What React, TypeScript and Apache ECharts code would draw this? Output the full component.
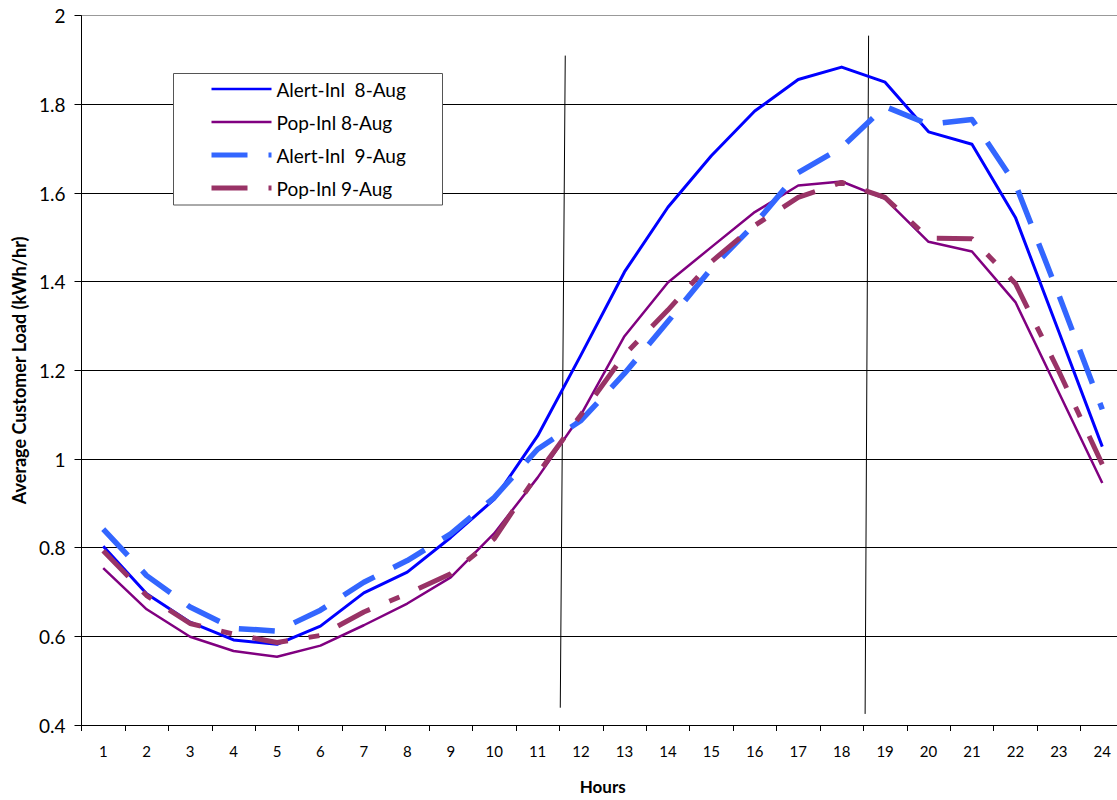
import React, { useEffect, useRef } from 'react';
import * as echarts from 'echarts';

const hours = ['1', '2', '3', '4', '5', '6', '7', '8', '9', '10', '11', '12', '13', '14', '15', '16', '17', '18', '19', '20', '21', '22', '23', '24'];

const alertAug8 = [0.803, 0.696, 0.632, 0.592, 0.582, 0.623, 0.698, 0.745, 0.823, 0.909, 1.052, 1.235, 1.422, 1.568, 1.684, 1.785, 1.856, 1.884, 1.850, 1.738, 1.710, 1.545, 1.287, 1.028];
const popAug8 = [0.754, 0.661, 0.599, 0.567, 0.554, 0.579, 0.625, 0.674, 0.733, 0.832, 0.958, 1.100, 1.277, 1.398, 1.478, 1.557, 1.617, 1.626, 1.587, 1.490, 1.468, 1.354, 1.150, 0.946];
const alertAug9 = [0.842, 0.737, 0.666, 0.618, 0.612, 0.659, 0.722, 0.771, 0.831, 0.913, 1.022, 1.087, 1.193, 1.310, 1.430, 1.530, 1.646, 1.703, 1.795, 1.755, 1.766, 1.620, 1.370, 1.112];
const popAug9 = [0.793, 0.692, 0.629, 0.605, 0.586, 0.602, 0.655, 0.696, 0.741, 0.820, 0.966, 1.100, 1.235, 1.336, 1.445, 1.527, 1.590, 1.624, 1.590, 1.498, 1.497, 1.396, 1.198, 0.988];

// hand-drawn vertical markers, in (hour, load) units
const markerA = [[11.637, 1.910], [11.522, 0.439]];
const markerB = [[18.62, 1.955], [18.54, 0.425]];

const seriesNames = ['Alert-Inl  8-Aug', 'Pop-Inl 8-Aug', 'Alert-Inl  9-Aug', 'Pop-Inl 9-Aug'];

const FONT = 'Lato, "Open Sans", sans-serif';

const App: React.FC = () => {
  const chartRef = useRef<HTMLDivElement>(null);

  useEffect(() => {
    if (!chartRef.current) return;
    const chart = echarts.init(chartRef.current, undefined, { renderer: 'svg' });

    const lineSeries = (name: string, data: number[], color: string, width: number, dash?: number[]) => ({
      name,
      type: 'line',
      data,
      symbol: 'none',
      xAxisIndex: 0,
      yAxisIndex: 0,
      lineStyle: {
        color,
        width,
        type: dash ? dash : 'solid',
        cap: 'butt',
        join: 'round'
      },
      itemStyle: { color }
    });

    const markerSeries = (data: number[][]) => ({
      type: 'line',
      data,
      symbol: 'none',
      silent: true,
      xAxisIndex: 1,
      yAxisIndex: 0,
      lineStyle: { color: '#000', width: 1 },
      z: 1
    });

    const legendWidths = [2.7, 2.7, 5, 5];

    const option: any = {
      animation: false,
      textStyle: { fontFamily: FONT },
      grid: {
        left: 81.5,
        top: 15.7,
        width: 1042.5,
        height: 713.6
      },
      legend: {
        orient: 'vertical',
        left: 209,
        top: 79,
        padding: 0,
        itemGap: 13,
        itemWidth: 60,
        itemHeight: 14,
        data: seriesNames.map((name, i) => ({ name, lineStyle: { width: legendWidths[i] } })),
        itemStyle: { color: 'rgba(0,0,0,0)', borderColor: 'rgba(0,0,0,0)', borderWidth: 0 },
        textStyle: { fontSize: 19, lineHeight: 20, color: '#000', fontFamily: FONT },
        z: 5
      },
      graphic: [
        {
          type: 'rect',
          z: 4,
          shape: { x: 173.5, y: 73.5, width: 269, height: 131.5 },
          style: { fill: '#fff', stroke: '#555', lineWidth: 1 }
        }
      ],
      xAxis: [
        {
          type: 'category',
          data: hours,
          boundaryGap: true,
          name: 'Hours',
          nameLocation: 'middle',
          nameGap: 53,
          nameTextStyle: { fontSize: 17, fontWeight: 'bold', color: '#000', fontFamily: FONT },
          axisLine: { lineStyle: { color: '#000', width: 1 } },
          axisTick: { show: true, length: 6, lineStyle: { color: '#000' } },
          axisLabel: { fontSize: 15, color: '#000', margin: 18, interval: 0, fontFamily: FONT },
          splitLine: { show: false }
        },
        {
          type: 'value',
          min: 0.5,
          max: 24.5,
          show: false
        }
      ],
      yAxis: {
        type: 'value',
        min: 0.4,
        max: 2,
        interval: 0.2,
        name: 'Average Customer Load (kWh/hr)',
        nameLocation: 'middle',
        nameGap: 54,
        nameTextStyle: { fontSize: 18, fontWeight: 'bold', color: '#000', fontFamily: FONT },
        axisLine: { show: true, lineStyle: { color: '#000', width: 1 } },
        axisTick: { show: true, length: 7, lineStyle: { color: '#000' } },
        axisLabel: { fontSize: 19, color: '#000', margin: 16, fontFamily: FONT },
        splitLine: {
          show: true,
          lineStyle: {
            color: ['#000', '#000', '#000', '#000', '#000', '#000', '#000', '#000', '#999'],
            width: 1
          }
        }
      },
      series: [
        lineSeries(seriesNames[0], alertAug8, '#0000FF', 3),
        lineSeries(seriesNames[1], popAug8, '#800080', 2.5),
        lineSeries(seriesNames[2], alertAug9, '#3366FF', 5.5, [36, 21]),
        lineSeries(seriesNames[3], popAug9, '#993366', 5, [36, 21, 11, 21]),
        markerSeries(markerA),
        markerSeries(markerB)
      ]
    };

    chart.setOption(option);

    return () => {
      chart.dispose();
    };
  }, []);

  // the plot runs a little past the right edge of the picture, as in the original
  return (
    <div
      style={{
        position: 'fixed',
        left: 0,
        top: 0,
        width: '1117px',
        height: '800px',
        overflow: 'hidden',
        background: '#fff'
      }}
    >
      <div ref={chartRef} style={{ width: '1130px', height: '800px' }} />
    </div>
  );
};

export default App;
